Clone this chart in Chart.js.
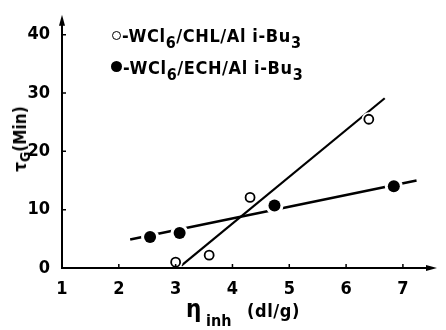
<!DOCTYPE html>
<html>
<head>
<meta charset="utf-8">
<script src="https://cdn.jsdelivr.net/npm/chart.js@4/dist/chart.umd.min.js"></script>
<style>
  body { margin: 0; background: #fff; }
  #wrap {
    position: relative; width: 446px; height: 330px;
    font-family: 'DejaVu Sans Condensed', 'Liberation Sans Narrow', sans-serif;
    font-weight: bold; color: #000;
  }
  .leg { position: absolute; font-size: 18px; line-height: 18px; letter-spacing: 0.6px; white-space: nowrap; }
  .leg sub { font-size: 16px; vertical-align: -6px; line-height: 0; }
  .mk { display: inline-block; box-sizing: border-box; vertical-align: 2px; margin-right: 1px; }
  .mk.open { width: 9px; height: 9px; border: 1.7px solid #000; border-radius: 50%; }
  .mk.full { width: 11px; height: 11px; background: #000; border-radius: 50%; }
  #ytitle {
    position: absolute; left: 20px; top: 139px; font-size: 17px; white-space: nowrap;
    transform: translate(-50%, -50%) rotate(-90deg);
  }
  #ytitle sub { font-size: 14px; vertical-align: -4px; line-height: 0; }
  .xt { position: absolute; white-space: nowrap; }
</style>
</head>
<body>
<div id="wrap">
  <canvas id="gelChart" width="446" height="330"></canvas>
  <div class="leg" style="left:112px; top:27px;"><span class="mk open"></span>-WCl<sub>6</sub>/CHL/Al i-Bu<sub>3</sub></div>
  <div class="leg" style="left:111px; top:59px;"><span class="mk full"></span>-WCl<sub>6</sub>/ECH/Al i-Bu<sub>3</sub></div>
  <div id="ytitle">τ<sub>G</sub>(Min)</div>
  <div class="xt" style="left:186px; top:297px; font-size:24px; line-height:24px;">η</div>
  <div class="xt" style="left:206px; top:313px; font-size:16px; line-height:16px;">inh</div>
  <div class="xt" style="left:247px; top:302px; font-size:18px; line-height:18px; letter-spacing:0.6px;">(dl/g)</div>
</div>
<script>
// axis ticks
const xTicks = [1, 2, 3, 4, 5, 6, 7];
const yTicks = [0, 10, 20, 30, 40];

// WCl6/CHL/Al i-Bu3 (open circles)
const chlX = [3.0, 3.59, 4.31, 6.4];
const chlY = [1.0, 2.2, 12.1, 25.5];
// WCl6/ECH/Al i-Bu3 (filled circles)
const echX = [2.55, 3.07, 4.74, 6.84];
const echY = [5.3, 6.0, 10.7, 14.0];

// hand drawn fit lines (end points)
const chlFitX = [3.1, 6.68];
const chlFitY = [0.4, 29.1];
const echFitX = [2.2, 7.24];
const echFitY = [4.9, 15.0];

const pts = (xs, ys) => xs.map((v, i) => ({ x: v, y: ys[i] }));
const tickFont = { family: "'DejaVu Sans Condensed', 'Liberation Sans Narrow', sans-serif", size: 18, weight: 'bold' };

// axes with arrows and small inward tick marks, drawn over the datasets
const axesPlugin = {
    id: 'axes',
    afterDatasetsDraw(chart) {
        const { ctx, chartArea: a, scales: { x, y } } = chart;
        const x0 = x.getPixelForValue(xTicks[0]);
        const y0 = y.getPixelForValue(yTicks[0]);
        ctx.save();
        ctx.strokeStyle = '#000';
        ctx.fillStyle = '#000';
        ctx.lineWidth = 2;
        ctx.beginPath();
        ctx.moveTo(x0, y0 + 1); ctx.lineTo(x0, a.top + 6);
        ctx.moveTo(x0 - 1, y0); ctx.lineTo(a.right - 6, y0);
        ctx.stroke();
        // arrow heads
        ctx.beginPath();
        ctx.moveTo(x0, a.top); ctx.lineTo(x0 - 3, a.top + 11); ctx.lineTo(x0 + 3, a.top + 11);
        ctx.closePath(); ctx.fill();
        ctx.beginPath();
        ctx.moveTo(a.right, y0); ctx.lineTo(a.right - 11, y0 - 3); ctx.lineTo(a.right - 11, y0 + 3);
        ctx.closePath(); ctx.fill();
        // tick marks
        ctx.lineWidth = 1.5;
        ctx.beginPath();
        yTicks.slice(1).forEach(v => {
            const py = y.getPixelForValue(v);
            ctx.moveTo(x0, py); ctx.lineTo(x0 + 4, py);
        });
        xTicks.slice(1).forEach(v => {
            const px = x.getPixelForValue(v);
            ctx.moveTo(px, y0); ctx.lineTo(px, y0 - 4);
        });
        ctx.stroke();
        ctx.restore();
    }
};

const gelCtx = document.getElementById('gelChart').getContext('2d');
const gelChart = new Chart(gelCtx, {
    type: 'scatter',
    data: {
        datasets: [
            {
                label: 'CHL fit',
                data: pts(chlFitX, chlFitY),
                showLine: true,
                borderColor: '#000',
                borderWidth: 2.2,
                pointRadius: 0,
                order: 3
            },
            {
                label: 'ECH fit',
                data: pts(echFitX, echFitY),
                showLine: true,
                borderColor: '#000',
                borderWidth: 2.6,
                pointRadius: 0,
                order: 3
            },
            {
                // white halos leave the gaps in the lines round each marker
                label: 'CHL gap',
                data: pts(chlX, chlY),
                pointRadius: 7,
                pointBackgroundColor: '#fff',
                pointBorderWidth: 0,
                order: 2
            },
            {
                label: 'ECH gap',
                data: pts(echX, echY),
                pointRadius: 9,
                pointBackgroundColor: '#fff',
                pointBorderWidth: 0,
                order: 2
            },
            {
                label: 'WCl6/CHL/Al i-Bu3',
                data: pts(chlX, chlY),
                pointRadius: 4.5,
                pointBackgroundColor: '#fff',
                pointBorderColor: '#000',
                pointBorderWidth: 1.8,
                order: 1
            },
            {
                label: 'WCl6/ECH/Al i-Bu3',
                data: pts(echX, echY),
                pointRadius: 6,
                pointBackgroundColor: '#000',
                pointBorderColor: '#000',
                pointBorderWidth: 0,
                order: 1
            }
        ]
    },
    options: {
        responsive: false,
        animation: false,
        events: [],
        layout: { padding: { top: 13, right: 1, left: 0, bottom: 0 } },
        scales: {
            x: {
                type: 'linear',
                min: 1,
                max: 7.6,
                afterBuildTicks: s => { s.ticks = xTicks.map(v => ({ value: v })); },
                afterFit: s => { s.height = 62; },
                grid: { display: false },
                border: { display: false },
                ticks: { color: '#000', font: tickFont, padding: 3 }
            },
            y: {
                min: 0,
                max: 43.4,
                afterBuildTicks: s => { s.ticks = yTicks.map(v => ({ value: v })); },
                afterFit: s => { s.width = 62; },
                grid: { display: false },
                border: { display: false },
                ticks: { color: '#000', font: tickFont, padding: 4 }
            }
        },
        plugins: {
            legend: { display: false },
            tooltip: { enabled: false }
        }
    },
    plugins: [axesPlugin]
});
</script>
</body>
</html>
